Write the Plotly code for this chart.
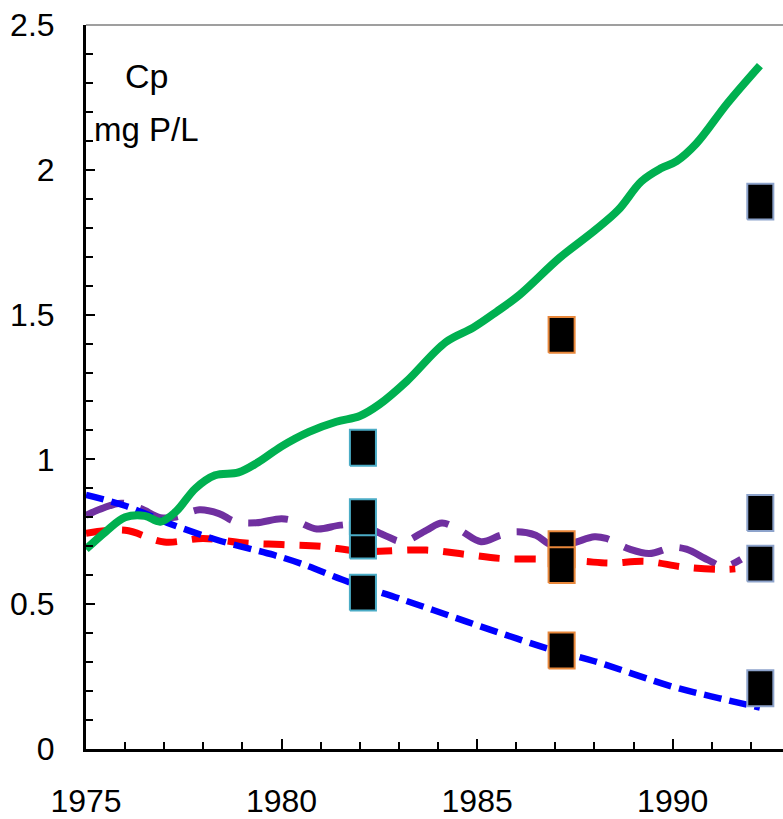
import plotly.graph_objects as go

# ---- simulated total phosphorus, mg P/L ----
green_years = [1975.0, 1975.5, 1976.0, 1976.5, 1976.9, 1977.3, 1977.8, 1978.3, 1978.9,
               1979.4, 1980.0, 1980.7, 1981.4, 1982.0, 1982.5, 1983.2, 1984.2, 1984.9,
               1985.5, 1986.1, 1987.1, 1988.0, 1988.6, 1989.2, 1989.7, 1990.1, 1990.6,
               1991.4, 1992.23]
green_cp = [0.69, 0.75, 0.80, 0.805, 0.785, 0.82, 0.90, 0.945, 0.955,
            0.99, 1.045, 1.095, 1.13, 1.15, 1.19, 1.27, 1.405, 1.455,
            1.51, 1.57, 1.695, 1.79, 1.86, 1.96, 2.005, 2.03, 2.09,
            2.23, 2.36]

blue_years = [1975.0, 1976.0, 1977.1, 1978.4, 1979.8, 1980.5, 1981.75, 1983.0, 1984.3,
              1985.6, 1986.9, 1988.0, 1990.0, 1991.2, 1992.23]
blue_cp = [0.877, 0.84, 0.78, 0.72, 0.67, 0.64, 0.575, 0.52, 0.46,
           0.40, 0.343, 0.303, 0.215, 0.175, 0.143]

red_years = [1975.0, 1976.0, 1977.0, 1978.0, 1979.0, 1980.0, 1981.0, 1982.0, 1983.7,
             1984.7, 1985.6, 1986.7, 1987.7, 1988.4, 1989.3, 1990.3, 1991.3, 1991.6]
red_cp = [0.745, 0.755, 0.715, 0.727, 0.712, 0.706, 0.70, 0.683, 0.687,
          0.672, 0.658, 0.655, 0.648, 0.642, 0.648, 0.628, 0.62, 0.622]

purple_years = [1975.0, 1975.4, 1975.9, 1976.4, 1976.9, 1977.3, 1977.9, 1978.4, 1978.8,
                1979.35, 1980.0, 1980.4, 1980.9, 1981.5, 1982.0, 1982.6, 1983.1, 1983.7,
                1984.1, 1984.55, 1985.1, 1985.6, 1986.0, 1986.5, 1986.9, 1987.4, 1988.0,
                1988.3, 1988.9, 1989.4, 1990.0, 1990.35, 1990.9, 1991.3, 1991.75]
purple_cp = [0.807, 0.83, 0.849, 0.83, 0.799, 0.801, 0.826, 0.813, 0.786,
             0.781, 0.795, 0.785, 0.76, 0.773, 0.775, 0.74, 0.716, 0.755,
             0.78, 0.756, 0.716, 0.738, 0.75, 0.738, 0.705, 0.71, 0.733,
             0.727, 0.69, 0.675, 0.696, 0.69, 0.653, 0.63, 0.655]

# ---- observed values (sampling campaigns) ----
obs_years = [1982.08, 1987.16, 1992.24]
obs_cp = [
    [1.04, 0.72, 0.80, 0.54],
    [1.43, 0.69, 0.635, 0.34],
    [1.89, 0.815, 0.64, 0.21],
]
obs_edge = ["#4BACC6", "#E8873A", "#8DA3CB"]

# ---- axis ticks ----
x_tickvals = [1975, 1980, 1985, 1990]
x_ticktext = ["1975", "1980", "1985", "1990"]
y_tickvals = [0, 0.5, 1, 1.5, 2, 2.5]
y_ticktext = ["0", "0.5", "1", "1.5", "2", "2.5"]

FONT = "Liberation Sans, Arial, sans-serif"

fig = go.Figure()

fig.add_trace(go.Scatter(x=purple_years, y=purple_cp, mode="lines",
                         line=dict(color="#7030A0", width=7, dash="40px,17px",
                                   shape="spline", smoothing=1)))
fig.add_trace(go.Scatter(x=red_years, y=red_cp, mode="lines",
                         line=dict(color="#FF0000", width=7, dash="21px,15px",
                                   shape="spline", smoothing=1)))
fig.add_trace(go.Scatter(x=blue_years, y=blue_cp, mode="lines",
                         line=dict(color="#0000FF", width=6.5, dash="18px,8px",
                                   shape="spline", smoothing=1)))
fig.add_trace(go.Scatter(x=green_years, y=green_cp, mode="lines",
                         line=dict(color="#00B050", width=8,
                                   shape="spline", smoothing=1)))

# observed values drawn as tall black boxes (half-width in years, half-height in mg P/L)
half_w = 0.333
half_h = 0.062
for yr, vals, edge in zip(obs_years, obs_cp, obs_edge):
    for v in vals:
        fig.add_trace(go.Scatter(
            x=[yr - half_w, yr + half_w, yr + half_w, yr - half_w, yr - half_w],
            y=[v - half_h, v - half_h, v + half_h, v + half_h, v - half_h],
            mode="lines", fill="toself", fillcolor="black",
            line=dict(color=edge, width=2)))

fig.add_annotation(x=1976.55, y=2.325, text="Cp", showarrow=False,
                   font=dict(family=FONT, size=34, color="black"),
                   xanchor="center", yanchor="middle")
fig.add_annotation(x=1976.55, y=2.14, text="mg P/L", showarrow=False,
                   font=dict(family=FONT, size=33, color="black"),
                   xanchor="center", yanchor="middle")

# thin frame line along the top of the plot area
fig.add_shape(type="line", xref="paper", yref="paper", x0=0, x1=1, y0=1, y1=1,
              line=dict(color="#7F7F7F", width=1.5))

fig.update_layout(
    width=783, height=819,
    margin=dict(l=86, r=0, t=25, b=65),
    paper_bgcolor="white", plot_bgcolor="white",
    showlegend=False,
    font=dict(family=FONT, color="black"),
    xaxis=dict(range=[1975, 1992.82], showgrid=False, zeroline=False,
               showline=True, linecolor="black", linewidth=3,
               tickmode="array", tickvals=x_tickvals, ticktext=x_ticktext,
               ticks="inside", ticklen=10, tickwidth=2, tickcolor="black",
               tickfont=dict(family=FONT, size=32, color="black"),
               ticklabelstandoff=22,
               minor=dict(dtick=1, tick0=1975, ticks="inside", ticklen=7,
                          tickwidth=2, tickcolor="black", showgrid=False)),
    yaxis=dict(range=[0, 2.5], showgrid=False, zeroline=False,
               showline=True, linecolor="black", linewidth=3,
               tickmode="array", tickvals=y_tickvals, ticktext=y_ticktext,
               ticks="inside", ticklen=9, tickwidth=2, tickcolor="black",
               tickfont=dict(family=FONT, size=32, color="black"),
               ticklabelstandoff=22,
               minor=dict(dtick=0.1, tick0=0, ticks="inside", ticklen=7,
                          tickwidth=2, tickcolor="black", showgrid=False)),
)

fig.write_html("out.html")
